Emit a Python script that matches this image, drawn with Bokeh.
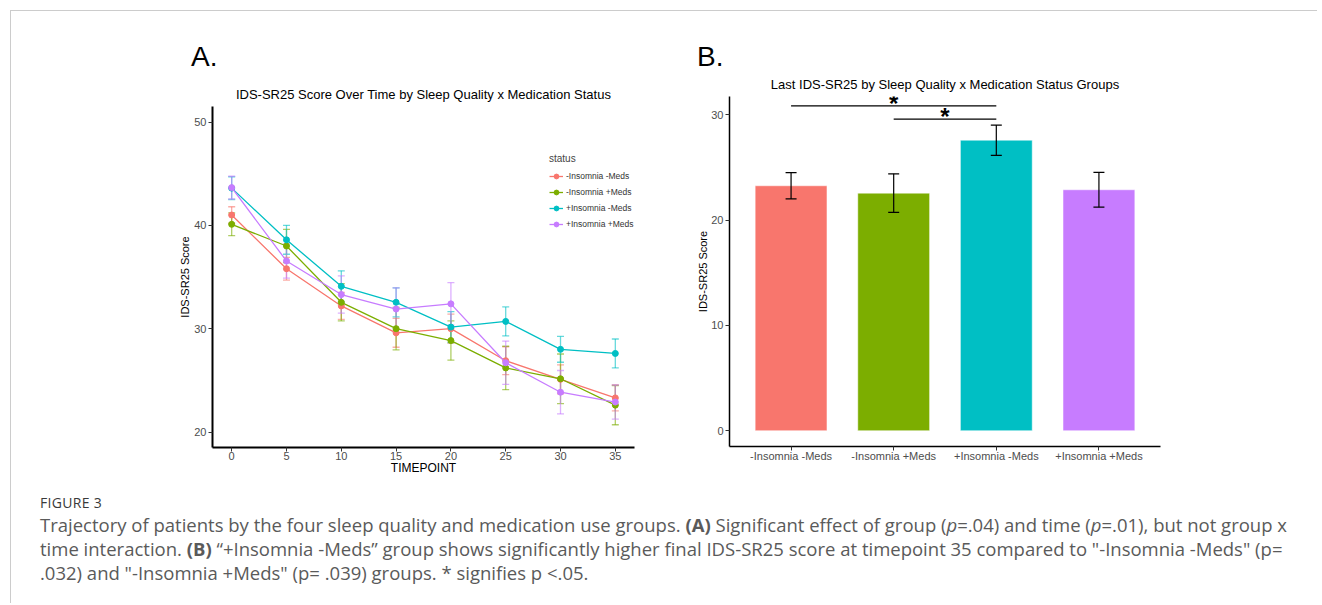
from bokeh.plotting import figure
from bokeh.models import (ColumnDataSource, Whisker, TeeHead, Legend, LegendItem, Title,
                          LabelSet, Range1d, FixedTicker, Div)
from bokeh.layouts import row, column
from bokeh.embed import file_html
from bokeh.resources import INLINE
from bokeh.core.properties import value

FONT = "Liberation Sans"

# ---------------- data ----------------
timepoints = [0, 5, 10, 15, 20, 25, 30, 35]
groups = ["-Insomnia -Meds", "-Insomnia +Meds", "+Insomnia -Meds", "+Insomnia +Meds"]
colors = ["#F8766D", "#7CAE00", "#00BFC4", "#C77CFF"]

neg_ins_neg_meds = [41.0, 35.8, 32.2, 29.6, 30.0, 26.9, 25.1, 23.3]
neg_ins_neg_meds_se = [0.8, 1.1, 1.3, 1.4, 1.4, 1.35, 1.4, 1.25]
neg_ins_pos_meds = [40.1, 38.0, 32.55, 30.0, 28.85, 26.2, 25.15, 22.6]
neg_ins_pos_meds_se = [1.1, 1.6, 1.8, 2.05, 1.9, 2.1, 2.4, 1.9]
pos_ins_neg_meds = [43.6, 38.6, 34.1, 32.55, 30.15, 30.7, 28.0, 27.6]
pos_ins_neg_meds_se = [1.1, 1.4, 1.5, 1.4, 1.5, 1.4, 1.25, 1.4]
pos_ins_pos_meds = [43.65, 36.55, 33.3, 31.9, 32.4, 26.7, 23.85, 22.9]
pos_ins_pos_meds_se = [1.1, 1.65, 1.8, 2.05, 2.05, 2.1, 2.1, 1.65]

series = [neg_ins_neg_meds, neg_ins_pos_meds, pos_ins_neg_meds, pos_ins_pos_meds]
series_se = [neg_ins_neg_meds_se, neg_ins_pos_meds_se, pos_ins_neg_meds_se, pos_ins_pos_meds_se]

last_scores = [23.27, 22.57, 27.6, 22.89]
last_scores_se = [1.25, 1.83, 1.44, 1.65]

signif_pairs = [(1, 3), (2, 3)]
signif_heights = [30.86, 29.6]
signif_labels = ["*", "*"]

title_a = "IDS-SR25 Score Over Time by Sleep Quality x Medication Status"
title_b = "Last IDS-SR25 by Sleep Quality x Medication Status Groups"
panel_a = "A."
panel_b = "B."
y_label = "IDS-SR25 Score"
x_label_a = "TIMEPOINT"

caption_head = "FIGURE 3"
caption_line1 = ("Trajectory of patients by the four sleep quality and medication use groups. "
                 "<b>(A)</b> Significant effect of group (<i>p</i>=.04) and time (<i>p</i>=.01), but not group x")
caption_line2 = ("time interaction. <b>(B)</b> &#8220;+Insomnia -Meds&#8221; group shows significantly higher final "
                 "IDS-SR25 score at timepoint 35 compared to \"-Insomnia -Meds\" (p=")
caption_line3 = ".032) and \"-Insomnia +Meds\" (p= .039) groups. * signifies p &lt;.05."


def style_axes(p, lw):
    for ax in (p.xaxis[0], p.yaxis[0]):
        ax.axis_line_width = lw
        ax.axis_line_color = "black"
        ax.major_tick_line_color = "#333333"
        ax.major_tick_line_width = 1
        ax.major_tick_out = 4
        ax.major_tick_in = 0
        ax.minor_tick_line_color = None
        ax.major_label_text_font = FONT
        ax.major_label_text_font_size = "11px"
        ax.major_label_text_color = "#4D4D4D"
        ax.major_label_standoff = 2
        ax.axis_label_text_font = FONT
        ax.axis_label_text_font_style = "normal"
        ax.axis_label_text_color = "black"
        ax.axis_label_standoff = 0
    p.xaxis.major_label_standoff = 0
    p.grid.visible = False
    p.outline_line_color = None
    p.background_fill_color = "white"
    p.border_fill_color = "white"


def add_title(p, main):
    p.add_layout(Title(text=main, text_font=FONT, text_font_size="13px", text_font_style="normal",
                       align="center", text_color="black"), "above")


# ---------------- panel letters ----------------
letters_html = (
    '<div style="position:relative;width:1306px;height:58px;">'
    '<span style="position:absolute;left:180px;top:36px;font-family:\'Liberation Sans\';'
    'font-size:28px;line-height:20px;color:black;">' + panel_a + '</span>'
    '<span style="position:absolute;left:686px;top:36px;font-family:\'Liberation Sans\';'
    'font-size:28px;line-height:20px;color:black;">' + panel_b + '</span></div>'
)
letters = Div(text=letters_html, width=1306, height=58, margin=0)

# ---------------- Panel A ----------------
pA = figure(width=654, height=421, x_range=Range1d(-1.75, 36.75), y_range=Range1d(18.5, 51.5),
            output_backend="svg", toolbar_location=None, frame_align=False,
            min_border_left=201, min_border_right=31, min_border_top=37, min_border_bottom=43)
style_axes(pA, 2)
add_title(pA, title_a)
pA.xaxis.ticker = FixedTicker(ticks=timepoints)
pA.yaxis.ticker = FixedTicker(ticks=[20, 30, 40, 50])
pA.xaxis.axis_label = x_label_a
pA.xaxis.axis_label_text_font_size = "12px"
pA.xaxis.axis_label_standoff = -2
pA.yaxis.axis_label = y_label
pA.yaxis.axis_label_text_font_size = "11px"

items = []
for g, c, ys, se in zip(groups, colors, series, series_se):
    src = ColumnDataSource(dict(x=timepoints, y=ys,
                                upper=[a + b for a, b in zip(ys, se)],
                                lower=[a - b for a, b in zip(ys, se)]))
    w = Whisker(base="x", upper="upper", lower="lower", source=src, line_color=c, line_alpha=0.6,
                line_width=1.3,
                upper_head=TeeHead(size=7, line_color=c, line_alpha=0.6, line_width=1.3),
                lower_head=TeeHead(size=7, line_color=c, line_alpha=0.6, line_width=1.3))
    pA.add_layout(w)
    lr = pA.line("x", "y", source=src, line_color=c, line_width=1.3)
    sr = pA.scatter("x", "y", source=src, size=6, color=c)
    items.append(LegendItem(label=g, renderers=[lr, sr]))

legend = Legend(items=items, location=(332, 212), title="status",
                title_text_font=FONT, title_text_font_size="10px", title_text_font_style="normal",
                title_standoff=6,
                label_text_font=FONT, label_text_font_size="8.5px", label_text_color="#333333",
                glyph_width=14, glyph_height=12, label_height=12, label_width=60,
                spacing=4, padding=5,
                label_standoff=3, border_line_alpha=0, background_fill_alpha=0)
pA.add_layout(legend)

# ---------------- Panel B ----------------
xpos = [1, 2, 3, 4]
pB = figure(width=652, height=421, x_range=Range1d(0.4, 4.6), y_range=Range1d(-1.5, 31.75),
            output_backend="svg", toolbar_location=None, frame_align=False,
            min_border_left=64, min_border_right=157, min_border_top=25, min_border_bottom=44)
style_axes(pB, 1.5)
add_title(pB, title_b)
pB.xaxis.ticker = FixedTicker(ticks=xpos)
pB.xaxis.major_label_overrides = {i: g for i, g in zip(xpos, groups)}
pB.xaxis.major_label_standoff = -1
pB.yaxis.ticker = FixedTicker(ticks=[0, 10, 20, 30])
pB.yaxis.axis_label = y_label
pB.yaxis.axis_label_text_font_size = "11px"
pB.yaxis.axis_label_standoff = -1

bsrc = ColumnDataSource(dict(x=xpos, top=last_scores, color=colors,
                             upper=[a + b for a, b in zip(last_scores, last_scores_se)],
                             lower=[a - b for a, b in zip(last_scores, last_scores_se)]))
pB.vbar(x="x", top="top", bottom=0, width=0.7, source=bsrc, fill_color="color",
        line_color="white", line_alpha=0.5, line_width=1)
pB.add_layout(Whisker(base="x", upper="upper", lower="lower", source=bsrc, line_color="black",
                      line_width=1.2, level="annotation",
                      upper_head=TeeHead(size=11, line_color="black", line_width=1.2),
                      lower_head=TeeHead(size=11, line_color="black", line_width=1.2)))

sx0 = [a for a, b in signif_pairs]
sx1 = [b for a, b in signif_pairs]
pB.segment(x0=sx0, y0=signif_heights, x1=sx1, y1=signif_heights, line_color="black", line_width=1.2)
ssrc = ColumnDataSource(dict(x=[(a + b) / 2 for a, b in signif_pairs], y=signif_heights,
                             text=signif_labels))
pB.add_layout(LabelSet(x="x", y="y", text="text", source=ssrc, text_font=value(FONT),
                       text_font_size="24px", text_font_style="bold", text_align="center",
                       text_baseline="alphabetic", y_offset=-6, text_color="black"))

# ---------------- caption ----------------
cap_html = (
    '<div style="font-family:\'Open Sans\',sans-serif;margin-left:29px;">'
    '<div style="font-size:14px;line-height:20px;padding-top:3px;color:#3a3a3a;letter-spacing:0.3px;">'
    + caption_head + '</div>'
    '<div style="font-size:18.5px;line-height:24px;white-space:nowrap;color:#5a5a5a;">'
    + caption_line1 + '<br>' + caption_line2 + '<br>' + caption_line3 + '</div></div>'
)
cap = Div(text=cap_html, width=1306, height=113, margin=0)

layout = column(letters, row(pA, pB), cap, margin=(10, 0, 0, 10),
                styles={"border-top": "1px solid #cccccc", "border-left": "1px solid #cccccc"})

open("out.html", "w").write(file_html(layout, INLINE))
